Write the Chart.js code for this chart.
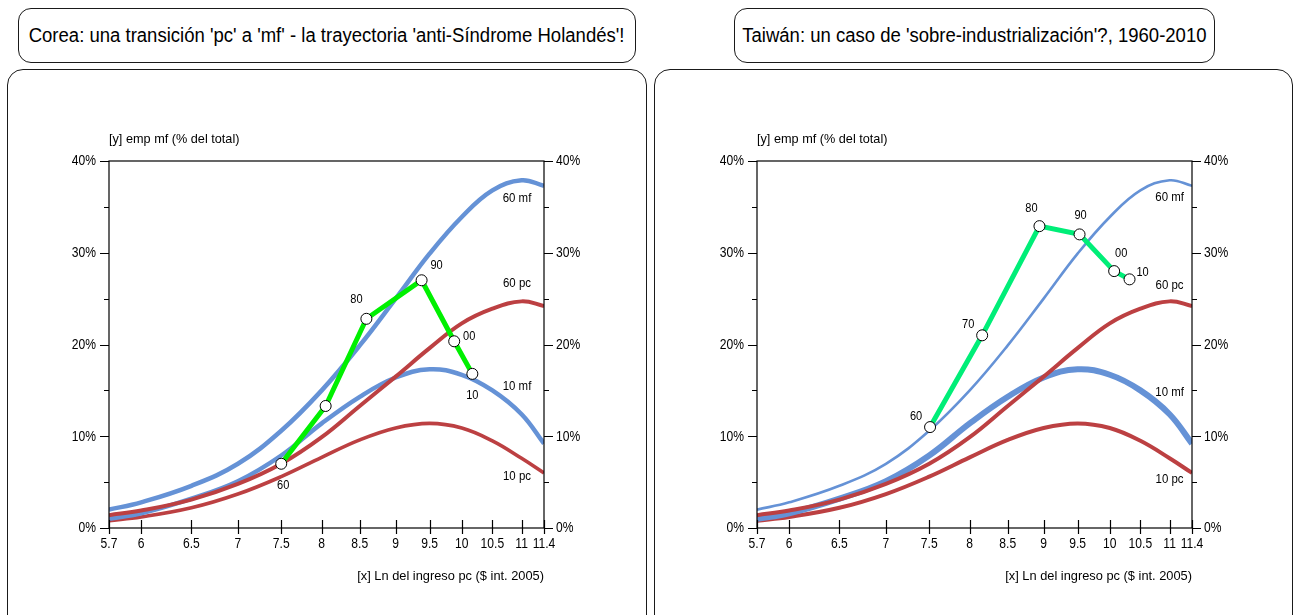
<!DOCTYPE html>
<html>
<head>
<meta charset="utf-8">
<script src="https://cdn.jsdelivr.net/npm/chart.js@4.4.1/dist/chart.umd.min.js"></script>
<style>
  html, body { margin: 0; padding: 0; background: #fff; width: 1293px; height: 615px; overflow: hidden; }
  .box { position: absolute; border: 1px solid #1a1a1a; box-sizing: border-box; background: transparent; }
  .title { border-radius: 13px; display: flex; align-items: center; justify-content: center;
           font-family: "Liberation Sans", Arial, sans-serif; font-size: 19.5px; color: #000; white-space: nowrap; }
  .title span { display: inline-block; transform: scaleX(0.95); }
  .panel { border-radius: 16px; }
  canvas { position: absolute; top: 0; }
</style>
</head>
<body>
<div class="box title" style="left:18px; top:8px; width:618px; height:55px;"><span>Corea: una transición 'pc' a 'mf' - la trayectoria 'anti-Síndrome Holandés'!</span></div>
<div class="box title" style="left:734px; top:8px; width:481px; height:55px;"><span>Taiwán: un caso de 'sobre-industrialización'?, 1960-2010</span></div>
<div class="box panel" style="left:7px; top:69px; width:640px; height:580px;"></div>
<div class="box panel" style="left:654px; top:69px; width:639px; height:580px;"></div>
<canvas id="corea" width="650" height="615" style="left:0px;"></canvas>
<canvas id="taiwan" width="645" height="615" style="left:648px;"></canvas>
<script>
// Ln of per-capita income (x axis, log-spaced) tick values
const xTicks = [5.7, 6, 6.5, 7, 7.5, 8, 8.5, 9, 9.5, 10, 10.5, 11, 11.4];
const yMajor = [0, 10, 20, 30, 40];
const yMinor = [5, 15, 25, 35];

// Reference curves: manufacturing (mf) and primary commodities (pc), 1960 and 2010
const curveX = [5.7, 6, 6.5, 7, 7.5, 8, 8.5, 9, 9.5, 10, 10.5, 11, 11.4];
const mf60 = [2.0, 2.8, 4.6, 7.0, 10.6, 15.0, 19.9, 25.0, 29.9, 33.9, 36.8, 37.9, 37.3];
const pc60 = [1.4, 1.9, 3.1, 4.8, 7.0, 9.9, 13.3, 16.5, 19.6, 22.3, 23.9, 24.7, 24.2];
const mf10 = [1.0, 1.6, 3.2, 5.1, 7.9, 11.4, 14.3, 16.4, 17.3, 16.7, 15.0, 12.4, 9.2];
const pc10 = [0.8, 1.2, 2.2, 3.7, 5.6, 7.7, 9.6, 10.9, 11.4, 10.9, 9.5, 7.6, 6.0];
const curveNames = ['60 mf', '60 pc', '10 mf', '10 pc'];

// Korea trajectory
const koreaX = [7.5, 8.05, 8.59, 9.38, 9.88, 10.17];
const koreaY = [7.0, 13.3, 22.8, 27.0, 20.35, 16.8];
const koreaLabels = ['60', '', '80', '90', '00', '10'];

// Taiwan trajectory
const taiwanX = [7.51, 8.16, 8.94, 9.53, 10.07, 10.32];
const taiwanY = [11.0, 21.0, 32.9, 32.0, 28.0, 27.1];
const taiwanLabels = ['60', '70', '80', '90', '00', '10'];

const FONT = '"Liberation Sans", Arial, sans-serif';
const BLUE = 'rgb(101,146,214)';
const RED = 'rgb(188,64,66)';

const pts = (xs, ys) => xs.map((x, i) => ({ x, y: ys[i] }));

// Narrow-looking text: regular sans squeezed horizontally
function text(ctx, str, x, y, align, size, sx) {
  ctx.save();
  ctx.font = size + 'px ' + FONT;
  ctx.textAlign = align;
  ctx.textBaseline = 'middle';
  ctx.translate(x, y);
  ctx.scale(sx, 1);
  ctx.fillText(str, 0, 0);
  ctx.restore();
}

// Draws the plot frame, tick marks and labels, axis captions, curve names and year labels
const decor = {
  id: 'decor',
  afterDatasetsDraw(chart, args, o) {
    const ctx = chart.ctx, a = chart.chartArea;
    const xs = chart.scales.x, ys = chart.scales.y;
    ctx.save();
    ctx.strokeStyle = '#000';
    ctx.lineWidth = 1.2;
    ctx.strokeRect(a.left, a.top, a.right - a.left, a.bottom - a.top);
    ctx.beginPath();
    for (const v of yMajor) {
      const py = Math.round(ys.getPixelForValue(v)) + 0.5;
      ctx.moveTo(a.left - 9, py); ctx.lineTo(a.left, py);
      ctx.moveTo(a.right, py); ctx.lineTo(a.right + 9, py);
    }
    for (const v of yMinor) {
      const py = Math.round(ys.getPixelForValue(v)) + 0.5;
      ctx.moveTo(a.left - 5, py); ctx.lineTo(a.left, py);
      ctx.moveTo(a.right, py); ctx.lineTo(a.right + 5, py);
    }
    for (const v of xTicks) {
      const px = Math.round(xs.getPixelForValue(v)) + 0.5;
      ctx.moveTo(px, a.bottom - 8); ctx.lineTo(px, a.bottom + 6);
    }
    ctx.stroke();
    ctx.fillStyle = '#000';

    for (const v of yMajor) {
      const py = ys.getPixelForValue(v);
      text(ctx, v + '%', a.left - 13, py, 'right', 15.5, 0.78);
      text(ctx, v + '%', a.right + 12, py, 'left', 15.5, 0.78);
    }
    for (const v of xTicks) {
      text(ctx, String(v), xs.getPixelForValue(v), a.bottom + 16, 'center', 15.5, 0.78);
    }

    text(ctx, '[y] emp mf (% del total)', a.left, a.top - 22, 'left', 13.5, 0.94);
    text(ctx, '[x] Ln del ingreso pc ($ int. 2005)', a.right, a.bottom + 48, 'right', 13.5, 0.95);

    o.curveLabels.forEach((c, i) => {
      text(ctx, curveNames[i], xs.getPixelForValue(c.x), ys.getPixelForValue(c.y), 'center', 13, 0.88);
    });

    const meta = chart.getDatasetMeta(0);
    meta.data.forEach((el, i) => {
      const t = o.pointLabels[i];
      if (!t) return;
      const off = o.labelOffsets[i];
      text(ctx, t, el.x + off[0], el.y + off[1], 'center', 13, 0.85);
    });
    ctx.restore();
  }
};

function makeChart(id, trajX, trajY, green, labels, labelOffsets, curveLabels, widths) {
  const curve = (data, color, w) => ({
    data, borderColor: color, borderWidth: w, pointRadius: 0, tension: 0.4, fill: false
  });
  const hidden = { display: false };
  return new Chart(document.getElementById(id), {
    type: 'line',
    data: {
      datasets: [
        {
          data: pts(trajX, trajY), borderColor: green, borderWidth: 5,
          pointRadius: 5.5, pointHoverRadius: 5.5, pointBackgroundColor: '#fff',
          pointBorderColor: '#000', pointBorderWidth: 1, tension: 0, fill: false
        },
        curve(pts(curveX, mf60), BLUE, widths[0]),
        curve(pts(curveX, pc60), RED, widths[1]),
        curve(pts(curveX, mf10), BLUE, widths[2]),
        curve(pts(curveX, pc10), RED, widths[3])
      ]
    },
    options: {
      responsive: false,
      animation: false,
      devicePixelRatio: 1,
      layout: { padding: { top: 161, left: 0, right: 0, bottom: 0 } },
      plugins: {
        legend: { display: false },
        tooltip: { enabled: false },
        decor: { pointLabels: labels, labelOffsets, curveLabels }
      },
      scales: {
        x: {
          type: 'logarithmic', min: 5.7, max: 11.4,
          afterBuildTicks: s => { s.ticks = xTicks.map(v => ({ value: v })); },
          afterFit: s => { s.height = 87; },
          grid: { display: false, drawTicks: false },
          border: hidden,
          ticks: hidden
        },
        y: {
          position: 'left', min: 0, max: 40,
          afterBuildTicks: s => { s.ticks = yMajor.map(v => ({ value: v })); },
          afterFit: s => { s.width = 109; },
          grid: { display: false, drawTicks: false },
          border: hidden,
          ticks: hidden
        },
        y2: {
          position: 'right', min: 0, max: 40,
          afterBuildTicks: s => { s.ticks = yMajor.map(v => ({ value: v })); },
          afterFit: s => { s.width = s.chart.width - 544; },
          grid: { display: false, drawTicks: false },
          border: hidden,
          ticks: hidden
        }
      }
    },
    plugins: [decor]
  });
}

makeChart('corea', koreaX, koreaY, '#00f000', koreaLabels,
  [[2, 22], [0, 0], [-10, -19], [15, -15], [15, -5], [0, 22]],
  [{ x: 10.92, y: 35.9 }, { x: 10.92, y: 26.7 }, { x: 10.92, y: 15.4 }, { x: 10.92, y: 5.6 }],
  [4.5, 4, 4.5, 3.6]);

makeChart('taiwan', taiwanX, taiwanY, '#00ee78', taiwanLabels,
  [[-14, -11], [-14, -11], [-8, -18], [1, -19], [7, -18], [13, -7]],
  [{ x: 11.0, y: 36.0 }, { x: 11.0, y: 26.4 }, { x: 11.0, y: 14.8 }, { x: 11.0, y: 5.3 }],
  [2.6, 4, 6, 4]);
</script>
</body>
</html>
